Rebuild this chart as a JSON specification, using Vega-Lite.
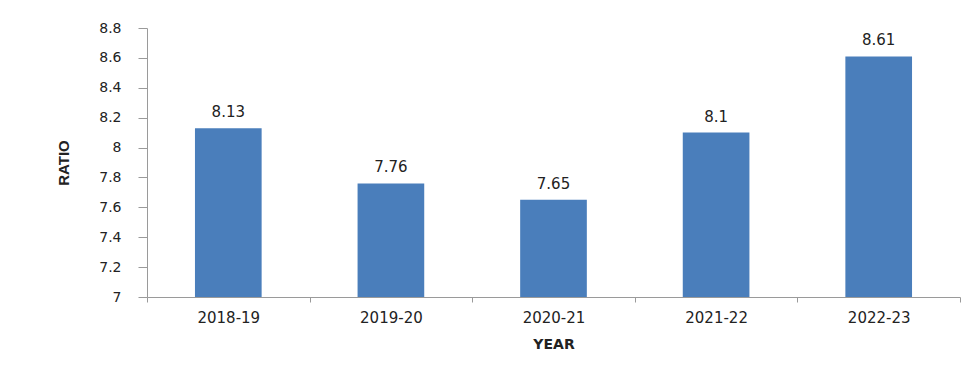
{
  "$schema": "https://vega.github.io/schema/vega-lite/v6.json",
  "autosize": "none",
  "width": 813,
  "height": 269,
  "padding": {"left": 147, "top": 28, "right": 17, "bottom": 76},
  "background": "white",
  "config": {"view": {"stroke": null}},
  "data": {"values": [
    {"year": "2018-19", "ratio": 8.13},
    {"year": "2019-20", "ratio": 7.76},
    {"year": "2020-21", "ratio": 7.65},
    {"year": "2021-22", "ratio": 8.1},
    {"year": "2022-23", "ratio": 8.61}
  ]},
  "encoding": {
    "x": {
      "field": "year", "type": "nominal", "sort": null,
      "scale": {"paddingInner": 0, "paddingOuter": 0},
      "axis": {
        "title": "YEAR", "labelAngle": 0, "tickBand": "extent",
        "domainColor": "#9a9a9a", "tickColor": "#9a9a9a", "tickSize": 5,
        "labelFont": "DejaVu Sans", "labelFontSize": 15, "labelColor": "#222222",
        "labelPadding": 8,
        "titleFont": "DejaVu Sans", "titleFontSize": 14, "titleFontWeight": "bold",
        "titleColor": "#222222", "titlePadding": 12
      }
    },
    "y": {
      "field": "ratio", "type": "quantitative",
      "scale": {"domain": [7, 8.8], "zero": false, "nice": false},
      "axis": {
        "title": "RATIO", "values": [7, 7.2, 7.4, 7.6, 7.8, 8, 8.2, 8.4, 8.6, 8.8],
        "format": "~g", "grid": false,
        "domainColor": "#9a9a9a", "tickColor": "#9a9a9a", "tickSize": 9,
        "labelFont": "DejaVu Sans", "labelFontSize": 14, "labelColor": "#222222",
        "labelPadding": 17,
        "titleFont": "Liberation Sans", "titleFontSize": 15, "titleFontWeight": "bold",
        "titleColor": "#222222", "titlePadding": 27
      }
    }
  },
  "layer": [
    {"mark": {"type": "bar", "color": "#4a7ebb", "clip": true, "width": {"band": 0.41}}},
    {
      "mark": {"type": "text", "baseline": "bottom", "dy": -8, "font": "DejaVu Sans", "fontSize": 15, "color": "#222222"},
      "encoding": {"text": {"field": "ratio", "type": "quantitative"}}
    }
  ]
}
